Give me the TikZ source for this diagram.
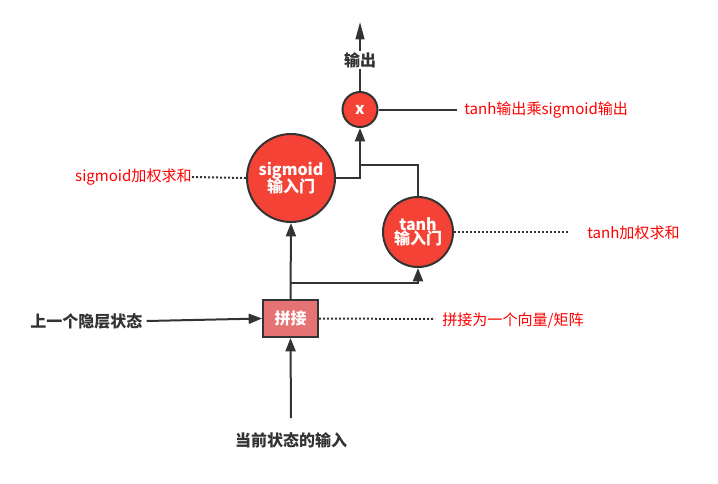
\documentclass[tikz,border=0pt]{standalone}
\usepackage{fontspec}
\setmainfont{Noto Sans CJK SC}
\usetikzlibrary{arrows.meta}
\definecolor{gatered}{RGB}{244,67,54}
\definecolor{boxred}{RGB}{229,115,115}
\definecolor{dark}{RGB}{51,51,51}
\definecolor{annot}{RGB}{255,0,0}
\tikzset{
  gate/.style={circle,draw=dark,fill=gatered,line width=1.5pt,inner sep=0pt,text=white,font=\bfseries\fontsize{12pt}{13pt}\selectfont,align=center},
  catbox/.style={rectangle,draw=dark,fill=boxred,line width=1.5pt,inner sep=0pt,minimum width=41.25pt,minimum height=27.75pt,text=white,font=\bfseries\fontsize{12pt}{13pt}\selectfont},
  lbl/.style={text=dark,font=\bfseries\fontsize{12pt}{14pt}\selectfont,inner sep=1pt},
  note/.style={text=annot,font=\fontsize{11.3pt}{13pt}\selectfont,inner sep=0pt},
  conn/.style={draw=dark,line width=1.5pt},
  arr/.style={conn,-{Triangle[length=10pt,width=7.5pt]}},
  toparr/.style={conn,-{Triangle[length=13pt,width=6.5pt]}},
  dotline/.style={draw=dark,line width=1.5pt,dash pattern=on 1.5pt off 1.5pt},
}
\begin{document}
\begin{tikzpicture}[x=0.75pt,y=-0.75pt]
\useasboundingbox (0,0) rectangle (718,483);
% nodes
\node[gate,minimum size=26.25pt] (mul) at (360,109.5) {x};
\node[gate,minimum size=66pt] (sig) at (291,178) {sigmoid\\[-2pt]输入门};
\node[gate,minimum size=52.5pt] (tnh) at (418,232) {tanh\\[-2pt]输入门};
\node[catbox] (cat) at (290.5,318.5) {拼接};
\coordinate (br) at (291,283);
\coordinate (j1) at (360,165);
\coordinate (top) at (360,22);
\coordinate (mulend) at (457,109.5);
\coordinate (tnhend) at (570,232);
\coordinate (catend) at (435,319);
\coordinate (inpc) at (291,418);
% connectors
\draw[arr] (cat.north) -- (sig.south);
\draw[arr] (br) -| (tnh.south);
\draw[conn] (tnh.north) |- (j1);
\draw[arr] (sig.east) -| (mul.south);
\draw[toparr] (mul.north) -- (top);
\node[lbl,fill=white] (out) at (360,60) {输出};
\draw[conn] (mul.east) -- (mulend);
\node[note,anchor=west] (multxt) at (464,110) {tanh输出乘sigmoid输出};
\node[note,anchor=east] (sigtxt) at (192,177) {sigmoid加权求和};
\draw[dotline] (sigtxt.east) -- (sig.west);
\draw[dotline] (tnh.east) -- (tnhend);
\node[note,anchor=west] (tnhtxt) at (587,233) {tanh加权求和};
\draw[dotline] (cat.east) -- (catend);
\node[note,anchor=west] (cattxt) at (442,320) {拼接为一个向量/矩阵};
\node[lbl,anchor=east] (prev) at (144,321) {上一个隐层状态};
\draw[arr] ([xshift=2pt]prev.east) -- (cat.west);
\node[lbl] (inp) at (291,440) {当前状态的输入};
\draw[arr] (inpc) -- (cat.south);
\end{tikzpicture}
\end{document}
